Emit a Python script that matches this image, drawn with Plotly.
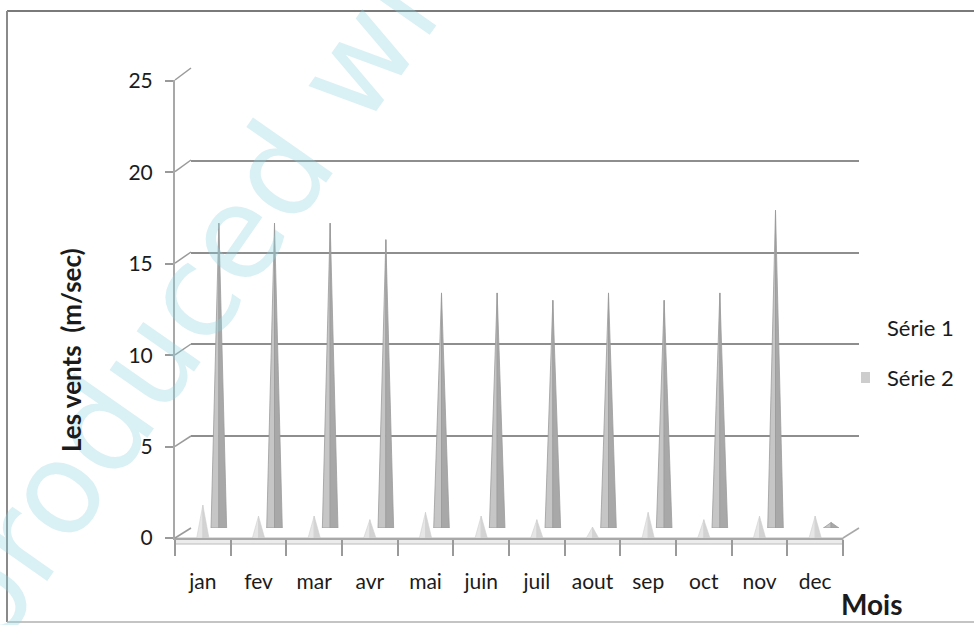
import plotly.graph_objects as go

# ---- data -------------------------------------------------------------
mois = ["jan", "fev", "mar", "avr", "mai", "juin", "juil", "aout", "sep", "oct", "nov", "dec"]
serie1 = [1.8, 1.2, 1.2, 1.0, 1.4, 1.2, 1.0, 0.6, 1.4, 1.0, 1.2, 1.2]
serie2 = [16.6, 16.6, 16.6, 15.7, 12.8, 12.8, 12.4, 12.8, 12.4, 12.8, 17.3, 0.3]
y_ticks = [0, 5, 10, 15, 20, 25]
series_names = ["Série 1", "Série 2"]

# ---- page geometry (pixels) ------------------------------------------
W, H = 974, 625
FRONT_X = (175, 843)   # front floor edge / value axis
FRONT_Y = (538, 80)    # y of 0 and 25 on the front plane
BACK_X = (191, 859)    # back wall
BACK_Y = (528, 68)
Y_MAX = 25
Y_RANGE = [0, Y_MAX * 1.002]   # tiny headroom so the top gridline is drawn


def px(x):
    return x / W


def py(y):
    return 1 - y / H


def pyramids(values, half_width):
    """Two-faced pyramid outlines (left face, right face) for each category."""
    lx, ly, rx, ry = [], [], [], []
    for i, v in enumerate(values):
        lx += [i - half_width, i, i, i - half_width, None]
        ly += [0, v, 0, 0, None]
        rx += [i, i + half_width, i, i, None]
        ry += [0, 0, v, 0, None]
    return (lx, ly), (rx, ry)


fig = go.Figure()

# back row: Série 2 on the back-wall axes
(l2x, l2y), (r2x, r2y) = pyramids(serie2, 0.14)
fig.add_trace(go.Scatter(x=l2x, y=l2y, fill="toself", mode="lines",
                         fillcolor="#c6c6c6", line=dict(color="#9c9c9c", width=0.8),
                         name=series_names[1], showlegend=False, hoverinfo="skip",
                         xaxis="x", yaxis="y"))
fig.add_trace(go.Scatter(x=r2x, y=r2y, fill="toself", mode="lines",
                         fillcolor="#a8a8a8", line=dict(color="#9c9c9c", width=0.8),
                         name=series_names[1], showlegend=False, hoverinfo="skip",
                         xaxis="x", yaxis="y"))

# front row: Série 1 on the front axes
(l1x, l1y), (r1x, r1y) = pyramids(serie1, 0.11)
fig.add_trace(go.Scatter(x=l1x, y=l1y, fill="toself", mode="lines",
                         fillcolor="#e6e6e6", line=dict(color="#d0d0d0", width=0.6),
                         name=series_names[0], showlegend=False, hoverinfo="skip",
                         xaxis="x2", yaxis="y2"))
fig.add_trace(go.Scatter(x=r1x, y=r1y, fill="toself", mode="lines",
                         fillcolor="#d3d3d3", line=dict(color="#d0d0d0", width=0.6),
                         name=series_names[0], showlegend=False, hoverinfo="skip",
                         xaxis="x2", yaxis="y2"))

n = len(mois)
x_range = [-0.5, n - 0.5]
font_main = "Lato, 'Open Sans', sans-serif"
text_col = "#1b1b1b"

fig.update_layout(
    width=W, height=H,
    margin=dict(l=0, r=0, t=0, b=0, autoexpand=False),
    paper_bgcolor="white",
    plot_bgcolor="rgba(0,0,0,0)",
    showlegend=False,
    # back wall axes: gridlines only
    xaxis=dict(domain=[px(BACK_X[0]), px(BACK_X[1])], range=x_range, anchor="y",
               visible=False, fixedrange=True),
    yaxis=dict(domain=[py(BACK_Y[0]), py(BACK_Y[1])], range=Y_RANGE, anchor="x",
               tickvals=y_ticks, showticklabels=False, ticks="",
               showgrid=True, gridcolor="#8e8e8e", gridwidth=2,
               zeroline=False, showline=False, fixedrange=True),
    # front axes: tick labels, axis lines
    xaxis2=dict(domain=[px(FRONT_X[0]), px(FRONT_X[1])], range=x_range, anchor="y2",
                tickmode="array", tickvals=list(range(n)), ticktext=mois, ticks="",
                minor=dict(tickmode="array", tickvals=[i - 0.5 for i in range(n + 1)],
                           ticks="outside", ticklen=16, tickcolor="#9a9a9a", tickwidth=1.5),
                ticklabelstandoff=24,
                tickfont=dict(family=font_main, size=21, color=text_col),
                showline=True, linecolor="#a8a8a8", linewidth=2,
                showgrid=False, zeroline=False, fixedrange=True),
    yaxis2=dict(domain=[py(FRONT_Y[0]), py(FRONT_Y[1])], range=Y_RANGE, anchor="x2",
                tickvals=y_ticks, ticks="outside", ticklen=8, tickcolor="#9a9a9a",
                tickwidth=1.5, ticklabelstandoff=8,
                tickfont=dict(family=font_main, size=21, color=text_col),
                showline=True, linecolor="#a8a8a8", linewidth=2,
                showgrid=False, zeroline=False, fixedrange=True),
)

shapes = []


def front_y(v):
    return py(FRONT_Y[0] + (FRONT_Y[1] - FRONT_Y[0]) * v / Y_MAX)


def back_y(v):
    return py(BACK_Y[0] + (BACK_Y[1] - BACK_Y[0]) * v / Y_MAX)


# depth connectors from the front axis to the back-wall gridlines
for v in y_ticks:
    shapes.append(dict(type="line", xref="paper", yref="paper",
                       x0=px(FRONT_X[0]), y0=front_y(v), x1=px(BACK_X[0]), y1=back_y(v),
                       line=dict(color="#9a9a9a", width=1.5)))
# floor slab and its right-hand depth edge
shapes.append(dict(type="rect", xref="paper", yref="paper", layer="below",
                   x0=px(FRONT_X[0]), x1=px(FRONT_X[1]), y0=py(FRONT_Y[0]), y1=py(FRONT_Y[0] + 6),
                   fillcolor="#ececec", line=dict(color="#bcbcbc", width=1)))
shapes.append(dict(type="line", xref="paper", yref="paper",
                   x0=px(FRONT_X[1]), y0=front_y(0), x1=px(BACK_X[1]), y1=back_y(0),
                   line=dict(color="#a8a8a8", width=1.5)))
# chart frame (top, left and bottom edges)
shapes.append(dict(type="line", xref="paper", yref="paper",
                   x0=px(7), y0=py(11), x1=px(W + 5), y1=py(11),
                   line=dict(color="#7a7a7a", width=2)))
shapes.append(dict(type="line", xref="paper", yref="paper",
                   x0=px(7), y0=py(11), x1=px(7), y1=py(622),
                   line=dict(color="#8a8a8a", width=2)))
shapes.append(dict(type="line", xref="paper", yref="paper",
                   x0=px(7), y0=py(622), x1=px(W + 5), y1=py(622),
                   line=dict(color="#b0b0b0", width=1.5)))
# legend swatch for Série 2
shapes.append(dict(type="rect", xref="paper", yref="paper",
                   x0=px(861), x1=px(870), y0=py(383), y1=py(372),
                   fillcolor="#cdcdcd", line=dict(width=0)))
fig.update_layout(shapes=shapes)


def label(text, x, y, size, xanchor="center", angle=0, family=font_main, color=text_col):
    return dict(text=text, xref="paper", yref="paper", x=px(x), y=py(y),
                xanchor=xanchor, yanchor="middle", showarrow=False, textangle=angle,
                font=dict(family=family, size=size, color=color))


annotations = [
    # watermark running diagonally across the left of the page
    label("Reproduced with permission", 385, 20, 128, angle=-55,
          family="DejaVu Sans", color="rgba(140,210,222,0.33)"),
    # axis titles
    label("<b>Les vents  (m/sec)</b>", 71, 350, 26, angle=-90),
    label("<b>Mois</b>", 872, 604, 28),
    # legend labels
    label(series_names[0], 885, 327, 22, xanchor="left"),
    label(series_names[1], 885, 377, 22, xanchor="left"),
]
fig.update_layout(annotations=annotations)

fig.write_html("out.html")
